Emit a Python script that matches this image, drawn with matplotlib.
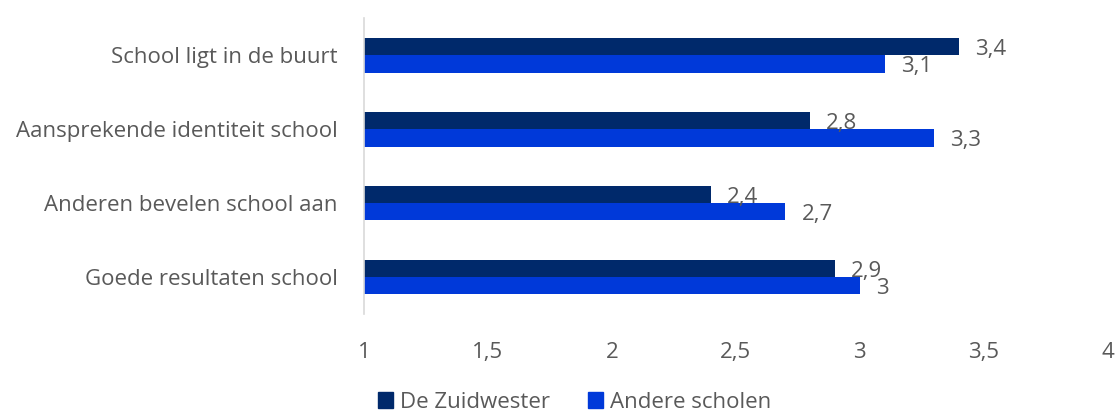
import numpy as np
import matplotlib.pyplot as plt
from matplotlib.patches import Patch

plt.rcParams['font.family'] = ['Open Sans', 'DejaVu Sans']

# Redenen schoolkeuze, gemiddelde score (1-4)
categorieen = ['School ligt in de buurt', 'Aansprekende identiteit school',
               'Anderen bevelen school aan', 'Goede resultaten school']
zuidwester = [3.4, 2.8, 2.4, 2.9]
andere = [3.1, 3.3, 2.7, 3.0]
reeksen = ['De Zuidwester', 'Andere scholen']
kleuren = ['#00296b', '#0039d9']
tekst_kleur = '#595959'
fs = 16

fig = plt.figure(figsize=(11.2, 4.12), dpi=100)
ax = fig.add_axes([0.325, 0.238, 0.664, 0.718])

y = np.arange(len(categorieen))
h = 0.236
for i, (waarden, dy) in enumerate([(zuidwester, -h / 2), (andere, h / 2)]):
    breedte = [w - 1 for w in waarden]
    bars = ax.barh(y + dy, breedte, left=1, height=h, color=kleuren[i])
    for b, w in zip(bars, waarden):
        ax.annotate(f'{w:g}'.replace('.', ','),
                    (b.get_x() + b.get_width(), b.get_y() + b.get_height() / 2),
                    xytext=(16, -3), textcoords='offset pixels',
                    va='center', ha='left', fontsize=fs, color=tekst_kleur)

ax.set_xlim(1, 4)
ax.set_ylim(len(categorieen) - 0.5, -0.5)
ax.set_yticks(y)
ax.set_yticklabels(categorieen, fontsize=fs, color=tekst_kleur)
ticks = [1, 1.5, 2, 2.5, 3, 3.5, 4]
ax.set_xticks(ticks)
ax.set_xticklabels([f'{t:g}'.replace('.', ',') for t in ticks], fontsize=fs, color=tekst_kleur)
ax.tick_params(length=0)
ax.tick_params(axis='x', pad=20)
ax.tick_params(axis='y', pad=19)
for s in ['top', 'right', 'bottom']:
    ax.spines[s].set_visible(False)
ax.spines['left'].set_color('#d9d9d9')
ax.spines['left'].set_linewidth(1.2)

handles = [Patch(color=k, label=r) for k, r in zip(kleuren, reeksen)]
leg = fig.legend(handles=handles, loc='lower center', bbox_to_anchor=(0.513, -0.05),
                 ncol=2, frameon=False, fontsize=fs, handlelength=0.7, handleheight=0.7,
                 handletextpad=0.3, columnspacing=1.7)
for t in leg.get_texts():
    t.set_color(tekst_kleur)

fig.savefig('out.png', dpi=100)
